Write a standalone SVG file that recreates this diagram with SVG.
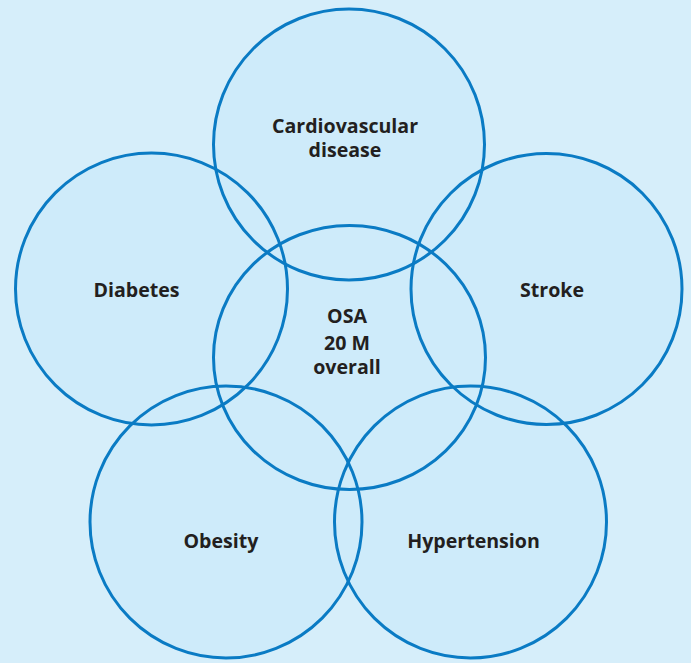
<svg xmlns="http://www.w3.org/2000/svg" width="691" height="663" viewBox="0 0 691 663">
<style>
.fill{fill:#ceebfa;stroke:none}
.ring{fill:none;stroke:#0a7bc4;stroke-width:3}
.lbl{font-family:"Open Sans","DejaVu Sans",sans-serif;font-weight:bold;font-size:19.6px;fill:#231f20;text-anchor:middle}
</style>
<rect x="0" y="0" width="691" height="663" fill="#d6eefa"/>
<g id="fills">
<circle class="fill" cx="349" cy="144.5" r="135.5"/>
<circle class="fill" cx="151.5" cy="289" r="136"/>
<circle class="fill" cx="546.5" cy="289" r="135.5"/>
<circle class="fill" cx="226" cy="522" r="136"/>
<circle class="fill" cx="470.5" cy="522" r="136"/>
<ellipse class="fill" cx="349.5" cy="357.5" rx="136" ry="132"/>
</g>
<g id="connectors"></g>
<g id="cardio">
<circle class="ring" cx="349" cy="144.5" r="135.5"/>
<text class="lbl" x="345" y="133">Cardiovascular</text>
<text class="lbl" x="345" y="157">disease</text>
</g>
<g id="diabetes">
<circle class="ring" cx="151.5" cy="289" r="136"/>
<text class="lbl" x="136.5" y="297">Diabetes</text>
</g>
<g id="stroke">
<circle class="ring" cx="546.5" cy="289" r="135.5"/>
<text class="lbl" x="552" y="297">Stroke</text>
</g>
<g id="obesity">
<circle class="ring" cx="226" cy="522" r="136"/>
<text class="lbl" x="221" y="548">Obesity</text>
</g>
<g id="hypertension">
<circle class="ring" cx="470.5" cy="522" r="136"/>
<text class="lbl" x="473.5" y="548">Hypertension</text>
</g>
<g id="osa">
<ellipse class="ring" cx="349.5" cy="357.5" rx="136" ry="132"/>
<text class="lbl" x="347" y="323">OSA</text>
<text class="lbl" x="347" y="350">20 M</text>
<text class="lbl" x="347" y="374">overall</text>
</g>
</svg>
